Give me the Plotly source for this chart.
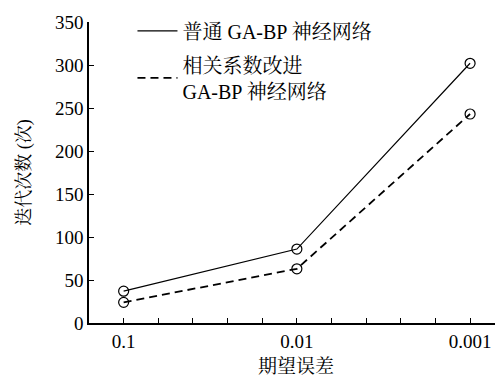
import plotly.graph_objects as go

categories = ["0.1", "0.01", "0.001"]
normal_ga_bp = [37, 86, 302]
improved_ga_bp = [24, 63, 243]
series_names = ["普通 GA-BP 神经网络", "相关系数改进<br>GA-BP 神经网络"]
y_ticks = [0, 50, 100, 150, 200, 250, 300, 350]

FONT = "Liberation Serif, Times New Roman, Noto Serif CJK SC, Noto Sans CJK SC, serif"
xs = list(range(len(categories)))

fig = go.Figure()
for vals, dash, w in [(normal_ga_bp, "solid", 1.2), (improved_ga_bp, "8px,5px", 1.8)]:
    fig.add_trace(go.Scatter(
        x=xs, y=vals, mode="lines+markers", showlegend=False,
        line=dict(color="black", width=w, dash=dash),
        marker=dict(symbol="circle-open", size=10, color="black", line=dict(width=1.2)),
    ))
# legend-only entries (line samples without markers)
for i, (name, dash, w) in enumerate([(series_names[0], "solid", 1.2), (series_names[1], "8px,5px", 1.8)]):
    fig.add_trace(go.Scatter(
        x=[None], y=[None], mode="lines", name=name, legendgroup=f"g{i}",
        line=dict(color="black", width=w, dash=dash),
    ))

fig.update_layout(
    width=495, height=369,
    margin=dict(l=81, r=0, t=14, b=54),
    paper_bgcolor="white", plot_bgcolor="white",
    font=dict(family=FONT, size=19, color="black"),
    showlegend=True,
    legend=dict(x=0.105, y=1.035, xanchor="left", yanchor="top",
                bgcolor="rgba(0,0,0,0)", font=dict(size=20),
                tracegroupgap=5, itemwidth=40),
    xaxis=dict(
        range=[-0.2, 2.19], tickvals=xs, ticktext=categories,
        automargin=False,
        showline=True, linecolor="black", linewidth=1.5,
        ticks="inside", ticklen=5, tickcolor="black", tickwidth=1,
        minor=dict(dtick=0.2, tick0=0, ticks="inside", ticklen=5, tickcolor="black"),
        showgrid=False, zeroline=False,
        title=dict(text="期望误差", standoff=12, font=dict(size=19)),
        tickfont=dict(size=19),
    ),
    yaxis=dict(
        range=[0, 350], tickvals=y_ticks,
        showline=True, linecolor="black", linewidth=1.5,
        ticks="inside", ticklen=5, tickcolor="black", tickwidth=1,
        showgrid=False, zeroline=False,
        title=dict(text="迭代次数 (次)", standoff=20, font=dict(size=18)),
        tickfont=dict(size=19),
    ),
)

fig.write_html("out.html")
